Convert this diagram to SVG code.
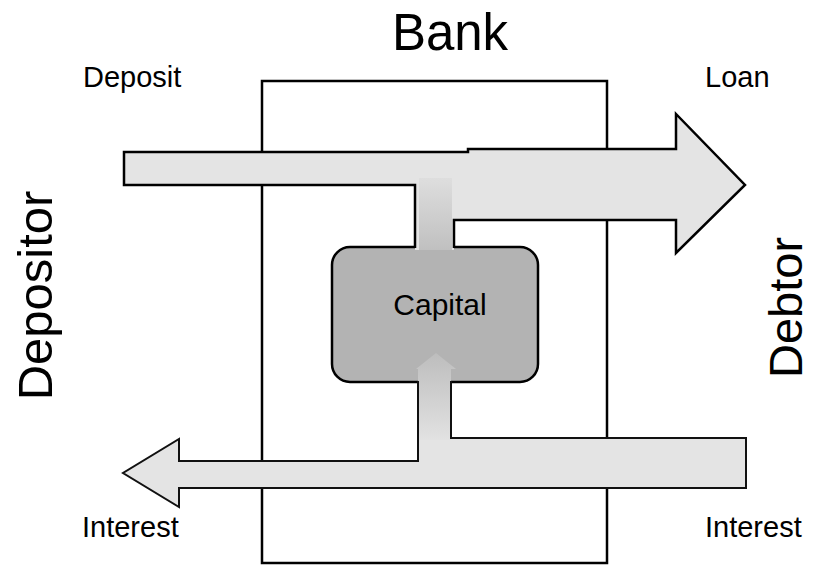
<svg xmlns="http://www.w3.org/2000/svg" width="814" height="565" viewBox="0 0 814 565">
<defs>
<linearGradient id="gTop" x1="0" y1="0" x2="0" y2="1">
<stop offset="0" stop-color="#dedede"/>
<stop offset="1" stop-color="#c0c0c0"/>
</linearGradient>
<linearGradient id="gBot" x1="0" y1="1" x2="0" y2="0">
<stop offset="0" stop-color="#e2e2e2"/>
<stop offset="1" stop-color="#bdbdbd"/>
</linearGradient>
</defs>
<style>
text{font-family:"Liberation Sans",Arial,sans-serif;fill:#000}
.lbl{font-size:29px}
.big{font-size:49px}
.band{fill:#e4e4e4;stroke:none}
.edge{fill:none;stroke:#000;stroke-width:2.5;stroke-linejoin:miter}
.edge2{fill:none;stroke:#111;stroke-width:2;stroke-linejoin:miter}
</style>
<rect width="814" height="565" fill="#fff"/>
<g id="bank">
<rect x="262" y="81" width="345" height="482" fill="#fff" stroke="#000" stroke-width="2.5"/>
<text x="450" y="50" font-size="51" text-anchor="middle">Bank</text>
</g>
<g id="depositor">
<text class="big" transform="translate(52,295.5) rotate(-90)" text-anchor="middle">Depositor</text>
</g>
<g id="debtor">
<text transform="translate(802,307.5) rotate(-90)" text-anchor="middle" font-size="47">Debtor</text>
</g>
<g id="capital">
<rect x="332" y="247" width="206" height="135" rx="18" fill="#b3b3b3" stroke="#000" stroke-width="2.5"/>
</g>
<g id="connectors">
<g id="top-flow">
<path class="band" d="M124,152 H468 V149 H676 V114 L745,185 L676,253 V220 H454 V250 H415 V185 H124 Z"/>
<rect x="419" y="178" width="33" height="72" fill="url(#gTop)"/>
<path class="edge" d="M415,248 V185 H124 V152 H468 V149 H676 V114 L745,185 L676,253 V220 H454 V248"/>
</g>
<g id="bottom-flow">
<path class="band" d="M746,438 V488 H179 V507 L123,473 L179,439 V461 H418 V380 H451 V438 Z"/>
<path d="M418,440 V369 H416 L436,353 L456,369 H451 V440 Z" fill="url(#gBot)"/>
<path class="edge2" d="M451,381 V438 H746 V488 H179 V507 L123,473 L179,439 V461 H418 V381"/>
</g>
<text class="lbl" x="83" y="87">Deposit</text>
<text class="lbl" x="705" y="87" font-size="30">Loan</text>
<text class="lbl" x="82" y="537" font-size="30">Interest</text>
<text class="lbl" x="705" y="537" font-size="30">Interest</text>
</g>
<text x="440" y="315" font-size="30" text-anchor="middle">Capital</text>
</svg>
